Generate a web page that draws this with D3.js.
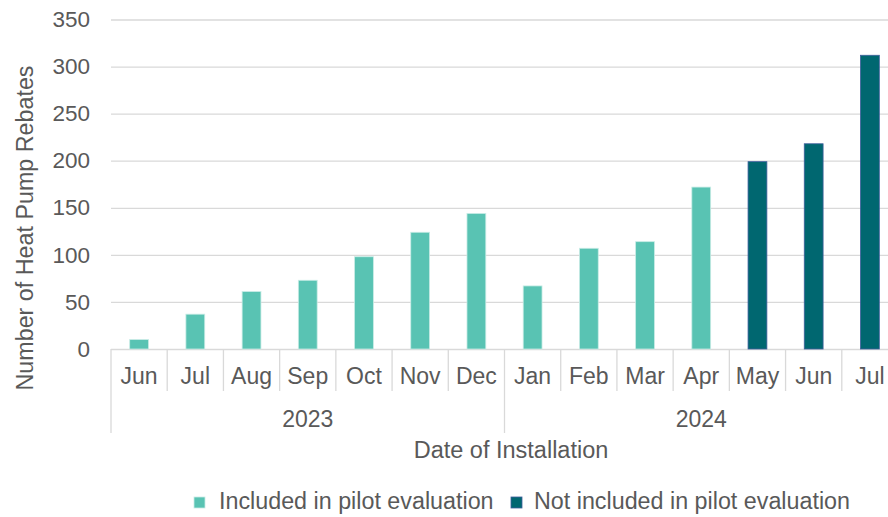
<!DOCTYPE html>
<html>
<head>
<meta charset="utf-8">
<script src="https://cdn.jsdelivr.net/npm/d3@7"></script>
<style>
  html, body { margin: 0; padding: 0; background: #fff; }
  svg { display: block; font-family: "Liberation Sans", Arial, sans-serif; }
</style>
</head>
<body>
<svg id="chart" width="888" height="517"></svg>
<script>
// Monthly heat pump rebates by installation date
const months = ["Jun", "Jul", "Aug", "Sep", "Oct", "Nov", "Dec", "Jan", "Feb", "Mar", "Apr", "May", "Jun", "Jul"];
const years = ["2023", "2023", "2023", "2023", "2023", "2023", "2023", "2024", "2024", "2024", "2024", "2024", "2024", "2024"];
const rebates = [10, 37, 61, 73, 98, 124, 144, 67, 107, 114, 172, 199, 218, 312];
const included = [true, true, true, true, true, true, true, true, true, true, true, false, false, false];
const yTicks = [0, 50, 100, 150, 200, 250, 300, 350];
const seriesNames = ["Included in pilot evaluation", "Not included in pilot evaluation"];

const colors = { inc: "#59c3b3", exc: "#006770" };
const strokes = { inc: "#c9ece6", exc: "#3f5f9c" };
const textColor = "#595959";
const gridColor = "#d9d9d9";

const svg = d3.select("#chart");
const plotLeft = 111, plotRight = 898, plotTop = 19.5, plotBottom = 349;

const keys = months.map((m, i) => years[i] + "-" + m);
const x = d3.scaleBand().domain(keys).range([plotLeft, plotRight]).paddingInner(0.665).paddingOuter(0.3325);
const y = d3.scaleLinear().domain([0, 350]).range([plotBottom, plotTop]);

// Horizontal gridlines and value labels
const yAxis = d3.axisLeft(y).tickValues(yTicks).tickSize(-(plotRight - plotLeft)).tickPadding(21);
const gy = svg.append("g").attr("transform", `translate(${plotLeft},0)`).call(yAxis);
gy.select(".domain").remove();
gy.selectAll(".tick line").attr("stroke", gridColor).attr("stroke-width", 1.3);
gy.selectAll(".tick text").attr("fill", textColor).attr("font-size", 22.5).attr("font-family", "Liberation Sans, Arial, sans-serif");

// Bars
svg.append("g").selectAll("rect").data(rebates).join("rect")
  .attr("x", (d, i) => x(keys[i]))
  .attr("y", d => y(d))
  .attr("width", x.bandwidth())
  .attr("height", d => y(0) - y(d))
  .attr("fill", (d, i) => included[i] ? colors.inc : colors.exc)
  .attr("stroke", (d, i) => included[i] ? strokes.inc : strokes.exc)
  .attr("stroke-width", 0.8);

// Category separators below the axis
const step = x.step();
const axisG = svg.append("g");
const bounds = keys.map(k => x(k) - x.paddingInner() * step / 2);
bounds.forEach((b, i) => {
  const yearStart = i === 0 || years[i] !== years[i - 1];
  axisG.append("line")
    .attr("x1", b).attr("x2", b)
    .attr("y1", plotBottom).attr("y2", yearStart ? 433 : 391)
    .attr("stroke", gridColor).attr("stroke-width", 1.3);
});
axisG.append("line").attr("x1", plotRight).attr("x2", plotRight).attr("y1", plotBottom).attr("y2", 433)
  .attr("stroke", gridColor).attr("stroke-width", 1.3);

// Month labels
axisG.selectAll("text.month").data(months).join("text")
  .attr("class", "month")
  .attr("x", (d, i) => x(keys[i]) + x.bandwidth() / 2)
  .attr("y", 384)
  .attr("text-anchor", "middle")
  .attr("font-size", 23)
  .attr("fill", textColor)
  .text(d => d);

// Year labels centred under their months
const yearGroups = d3.groups(keys.map((k, i) => ({ k, yr: years[i] })), d => d.yr);
axisG.selectAll("text.year").data(yearGroups).join("text")
  .attr("class", "year")
  .attr("x", d => {
    const first = x(d[1][0].k) - x.paddingInner() * step / 2;
    const last = x(d[1][d[1].length - 1].k) - x.paddingInner() * step / 2 + step;
    return (first + last) / 2;
  })
  .attr("y", 427)
  .attr("text-anchor", "middle")
  .attr("font-size", 23)
  .attr("fill", textColor)
  .text(d => d[0]);

// Axis titles
svg.append("text")
  .attr("x", 511).attr("y", 458)
  .attr("text-anchor", "middle").attr("font-size", 23.5).attr("fill", textColor)
  .text("Date of Installation");

svg.append("text")
  .attr("transform", "translate(33,228) rotate(-90)")
  .attr("text-anchor", "middle").attr("font-size", 23.3).attr("fill", textColor)
  .text("Number of Heat Pump Rebates");

// Legend
const legend = svg.append("g");
const legendItems = [
  { name: seriesNames[0], fill: colors.inc, stroke: strokes.inc, sx: 194, tx: 219 },
  { name: seriesNames[1], fill: colors.exc, stroke: strokes.exc, sx: 511, tx: 534 }
];
legendItems.forEach(it => {
  legend.append("rect").attr("x", it.sx).attr("y", 497).attr("width", 11).attr("height", 11)
    .attr("fill", it.fill).attr("stroke", it.stroke).attr("stroke-width", 0.8);
  legend.append("text").attr("x", it.tx).attr("y", 509).attr("font-size", 23.3).attr("fill", textColor)
    .text(it.name);
});
</script>
</body>
</html>
